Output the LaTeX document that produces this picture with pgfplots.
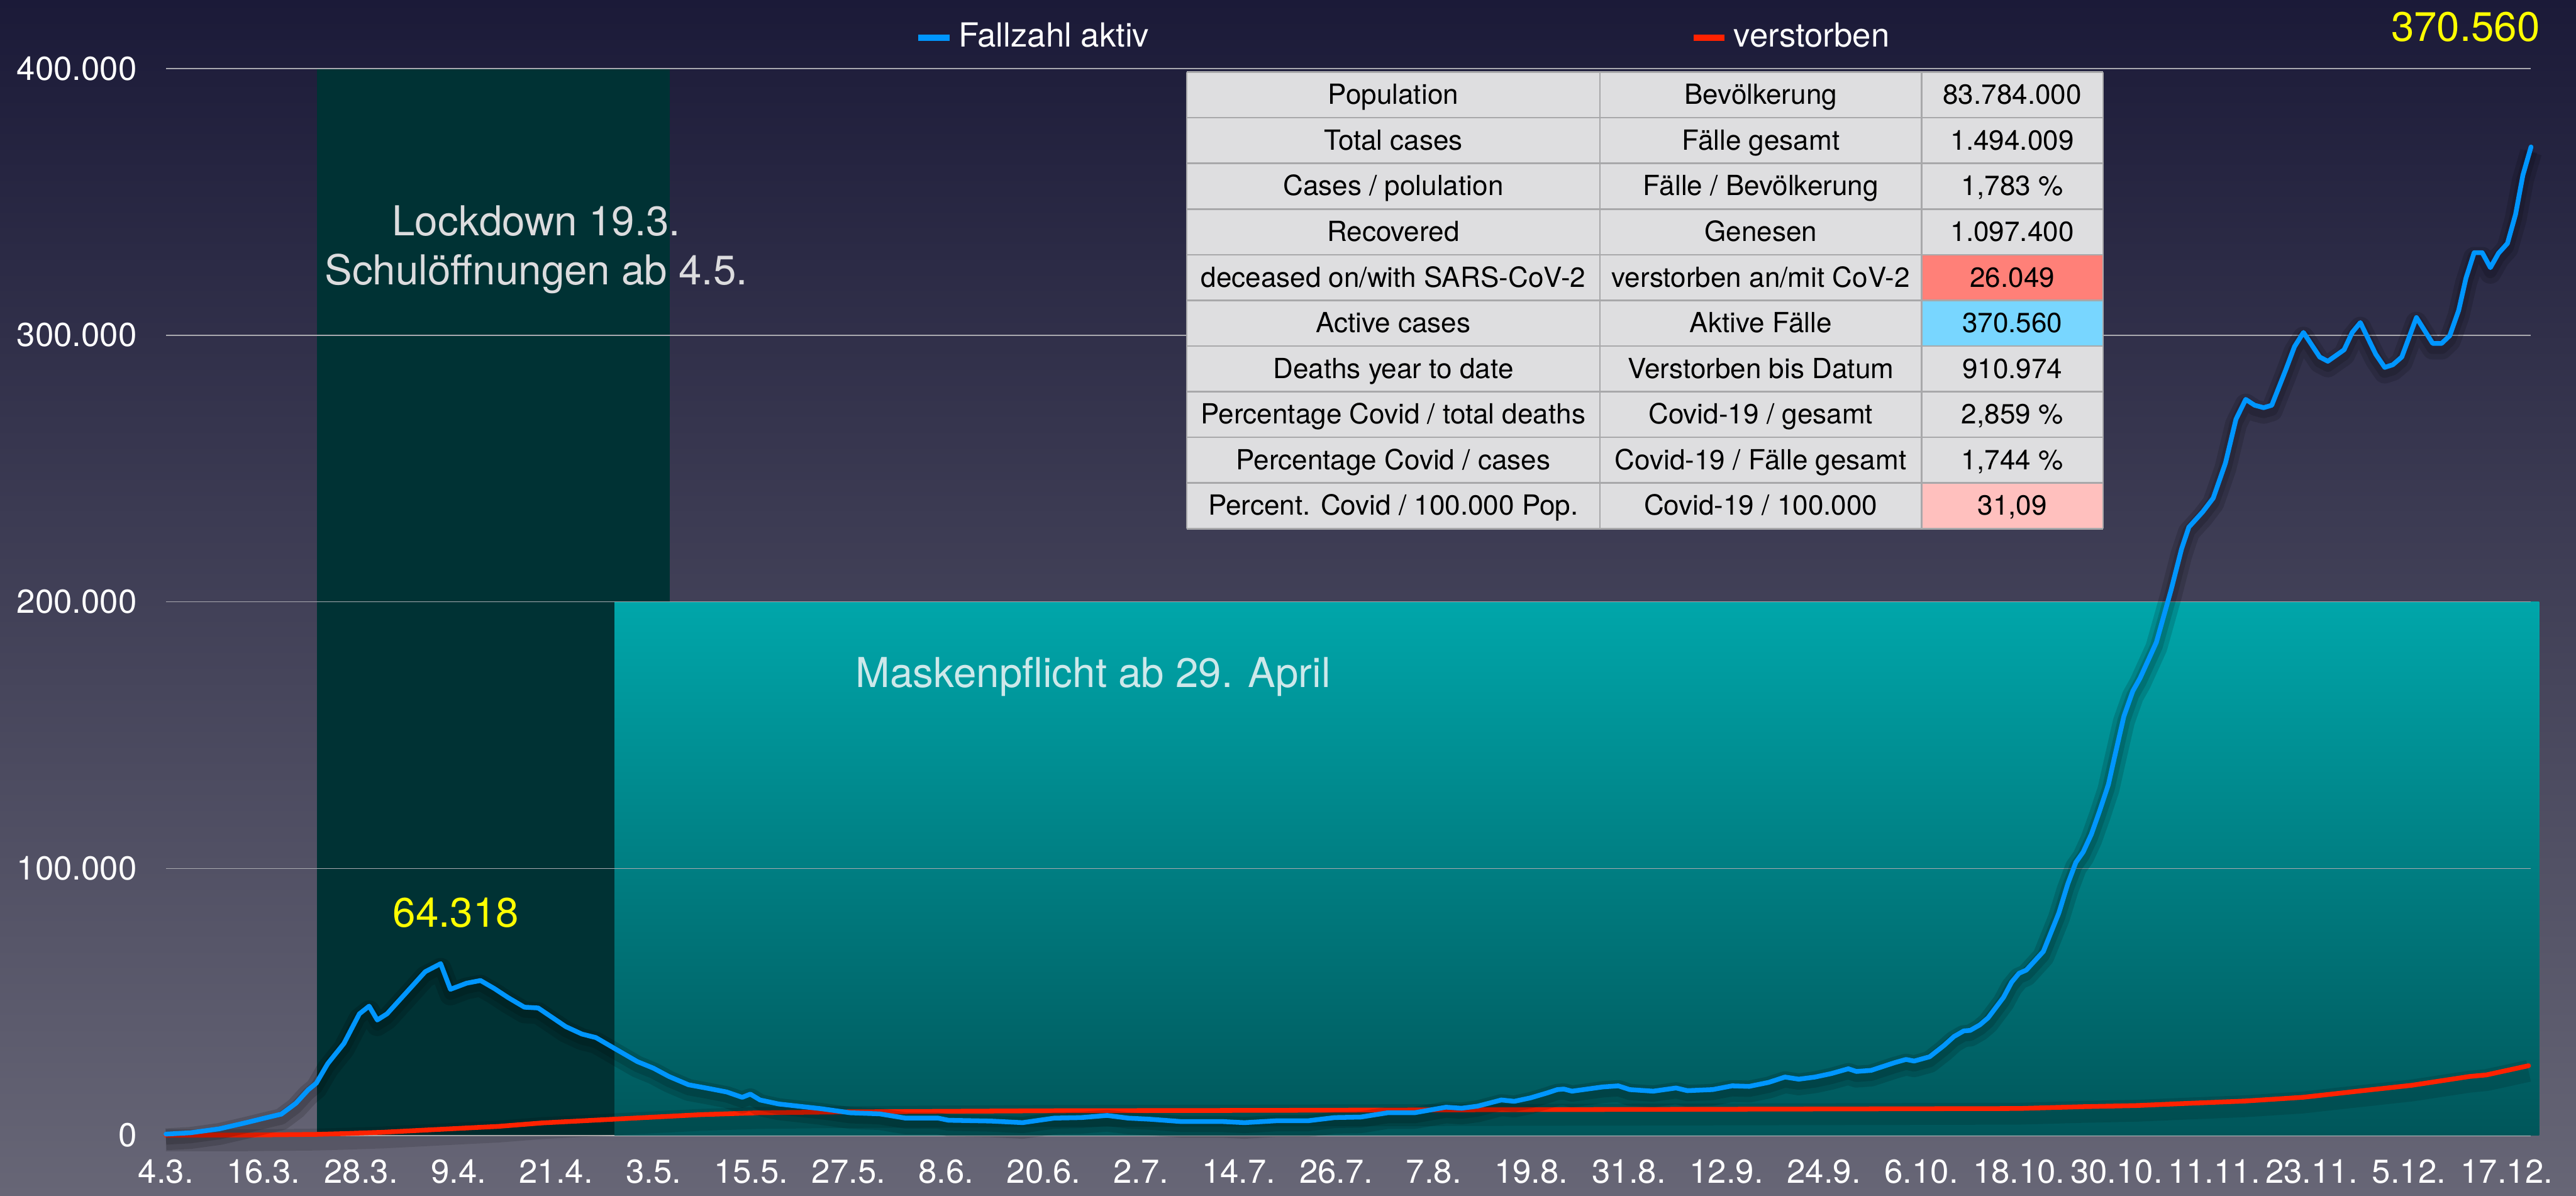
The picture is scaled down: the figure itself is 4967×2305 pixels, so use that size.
\documentclass[border=0pt]{standalone}
\usepackage{pgfplots}
\usepackage{pgfplotstable}
\pgfplotsset{compat=1.18}
\usepackage{fontspec}
\setmainfont{TeX Gyre Heros}
\definecolor{bgtop}{RGB}{27,26,56}
\definecolor{bgbot}{RGB}{103,102,118}
\definecolor{lockdown}{RGB}{0,50,52}
\definecolor{tealtop}{RGB}{0,166,170}
\definecolor{tealbot}{RGB}{0,86,90}
\definecolor{lineblue}{RGB}{0,150,255}
\definecolor{linered}{RGB}{255,34,0}
\definecolor{gridgray}{RGB}{170,170,176}
\definecolor{axisgray}{RGB}{190,190,190}
\definecolor{tablegray}{RGB}{222,222,224}
\definecolor{tableline}{RGB}{168,168,170}
\definecolor{cellred}{RGB}{255,128,120}
\definecolor{cellblue}{RGB}{120,214,255}
\definecolor{cellpink}{RGB}{255,192,190}
\definecolor{annotgray}{RGB}{220,220,222}
\definecolor{annotteal}{RGB}{205,232,234}
\definecolor{annotyellow}{RGB}{255,255,0}
\newcommand{\ticksize}{\fontsize{9.1}{11}\selectfont}
\newcommand{\tabsize}{\fontsize{7.6}{9}\selectfont}
\newcommand{\annsize}{\fontsize{11.3}{13.5}\selectfont}
% one table row: index, English, German, value
\newcommand{\trow}[4]{%
  \node[font=\tabsize, text=black, inner sep=0pt, anchor=base] at (2686.5,{201+88*#1}) {#2};
  \node[font=\tabsize, text=black, inner sep=0pt, anchor=base] at (3395,{201+88*#1}) {#3};
  \node[font=\tabsize, text=black, inner sep=0pt, anchor=base] at (3880,{201+88*#1}) {#4};}

\pgfplotstableread{
day active
0 400
3 900
6.6 2400
10 4800
12 6300
14.2 7900
16 12000
17.5 17000
18.5 19500
19.9 26800
21.9 34400
23.8 45500
25 48400
26 43200
27.2 45500
29.7 53900
31.9 61300
33.8 64318
35 54700
37 57000
38.7 58000
40.4 55000
42.1 51600
44.1 48000
45.8 47700
49.2 40700
51.2 37900
52.9 36600
55.1 32700
58 27600
60 25100
61.9 22000
64.3 18900
66.8 17500
69 16200
70.9 14200
71.9 15400
73.1 13200
75.4 11700
80.7 9900
84.2 8400
87.8 8000
91 6400
95 6400
96.3 5600
101.5 5300
105.4 4700
109.3 6400
112.6 6600
115.8 7400
118.4 6400
121 6000
125 5100
130.1 5100
132.7 4700
136.6 5400
140.5 5400
143.8 6600
147 6800
150.3 8400
153.6 8400
157.5 10500
159.4 10100
161.4 10900
164.3 13200
165.9 12700
167.9 14000
169.9 15800
171.2 17100
172 17300
173 16500
176.8 18100
178.7 18500
180.1 17100
183 16500
185.8 17700
187.2 16700
190.3 17100
192.7 18500
194.8 18300
197.2 19800
199.2 21800
200.9 21000
202.9 21800
204.9 23100
207 24900
208 23900
209.8 24300
212.7 27200
214.1 28400
215.1 27800
217 29400
218.8 33700
220 37000
221.2 39100
222 39300
223.2 41400
224.2 44000
226.1 51700
227.1 57400
228 60700
228.9 61900
231 68900
232.9 83300
234 94200
235 102300
235.9 106200
236.9 112800
237.9 121400
239 131500
239.7 141000
240.9 157000
242 166500
242.9 171400
244.9 184800
246.7 204300
248 219800
248.9 228000
250.6 233700
251.9 238900
253.4 252000
254.7 268500
255.9 275900
257 273700
258.1 272800
259.1 273700
260.8 286800
261.9 295700
263 301000
265 291800
266 290200
268 294500
269 301000
270 304700
271.9 292800
273 287900
274 288900
275.1 291800
276 299200
276.9 306600
278.9 296900
280 296900
281 299800
282.1 309300
283 321400
284 330900
285 330900
286 325300
287 330700
288.1 334400
289.1 345300
290 360000
291 370560
}\activetab

\pgfplotstableread{
day deaths
0 0
10 50
18.4 300
22 600
26.7 1100
33.1 2100
40.9 3300
46.3 4600
55.1 6000
65.8 7700
72.9 8400
84 8750
108 9150
134 9300
171 9600
187 9700
228 10000
236 10700
242.4 11100
248.5 11900
255.8 12800
262.9 14200
269.1 16300
276.3 18700
283.4 22000
285.5 22600
290.7 26049
}\deathtab

\begin{document}
\begin{tikzpicture}
% background of the whole picture (1 unit = 1 pixel of the reference)
\begin{scope}[x=0.05mm,y=-0.05mm,shift={(-320,-2188)}]
\fill[top color=bgtop,bottom color=bgbot] (0,0) rectangle (4967,2305);
\end{scope}

\begin{axis}[
  scale only axis,
  width=228mm, height=102.8mm,
  xmin=0, xmax=291, ymin=0, ymax=400000,
  clip=false,
  axis x line*=bottom, axis y line*=left,
  y axis line style={draw=none},
  x axis line style={draw=axisgray, line width=0.6pt, -},
  major tick length=0pt,
  xtick={0,12,...,288},
  xticklabels={4.3.,16.3.,28.3.,9.4.,21.4.,3.5.,15.5.,27.5.,8.6.,20.6.,2.7.,14.7.,26.7.,7.8.,19.8.,31.8.,12.9.,24.9.,6.10.,18.10.,30.10.,11.11.,23.11.,5.12.,17.12.},
  ytick={0,100000,200000,300000,400000},
  yticklabels={0,100.000,200.000,300.000,400.000},
  scaled y ticks=false,
  /pgf/number format/assume math mode=true,
  tick label style={font=\ticksize, text=white},
  xticklabel style={anchor=north, inner sep=0pt, yshift=-2.3mm},
  yticklabel style={anchor=east, inner sep=0pt, xshift=-2.75mm},
  legend columns=2,
  reverse legend,
  legend style={at={(0.3169,1.0287)}, anchor=west, draw=none, fill=none,
    inner sep=0pt, outer sep=0pt,
    nodes={inner sep=0pt, text=white, font=\ticksize},
    /tikz/every odd column/.append style={column sep=0.6mm},
    /tikz/every even column/.append style={column sep=52.2mm}},
  legend image code/.code={\draw[#1, line width=1.6pt, line cap=butt] (0mm,0mm) -- (3mm,0mm);},
]
% shaded periods
\addplot[forget plot, draw=none, fill=lockdown]
  coordinates {(18.6,0) (18.6,400000) (62,400000) (62,0)};
\addplot[forget plot, draw=none, top color=tealtop, bottom color=tealbot]
  coordinates {(55.2,0) (55.2,200000) (292,200000) (292,0)};
% horizontal grid lines (above the shaded periods, below the series)
\foreach \g in {100000,200000,300000,400000} {
  \edef\temp{\noexpand\draw[gridgray, line width=0.3pt] (axis cs:0,\g) -- (axis cs:291,\g);}
  \temp
}

% deaths
\addplot[forget plot, draw=black, opacity=0.12, line width=6pt, line join=round, yshift=-0.5mm]
  table[x=day, y=deaths] {\deathtab};
\addplot[draw=linered, line width=1.3pt, line join=round, line cap=round]
  table[x=day, y=deaths] {\deathtab};
\addlegendentry{verstorben}
% active cases
\addplot[forget plot, draw=black, opacity=0.14, line width=6pt, line join=round, yshift=-0.5mm]
  table[x=day, y=active] {\activetab};
\addplot[forget plot, draw=black, opacity=0.14, line width=3.5pt, line join=round, yshift=-0.4mm]
  table[x=day, y=active] {\activetab};
\addplot[draw=lineblue, line width=1.3pt, line join=round, line cap=round]
  table[x=day, y=active] {\activetab};
\addlegendentry{Fallzahl aktiv}
\end{axis}

% annotations and the table (1 unit = 1 pixel of the reference)
\begin{scope}[x=0.05mm,y=-0.05mm,shift={(-320,-2188)}]
\node[anchor=base, text=annotgray, font=\annsize, inner sep=0pt] at (1034,454) {Lockdown 19.3.};
\node[anchor=base, text=annotgray, font=\annsize, inner sep=0pt] at (1034,549) {Schulöffnungen ab 4.5.};
\node[anchor=base, text=annotteal, font=\annsize, inner sep=0pt] at (2108,1325) {Maskenpflicht ab 29. April};
\node[anchor=base, text=annotyellow, font=\annsize, inner sep=0pt] at (879,1787) {64.318};
\node[anchor=base, text=annotyellow, font=\annsize, inner sep=0pt] at (4754,80) {370.560};

% table
\fill[tablegray] (2288,139) rectangle (4055,1019);
\fill[cellred] (3705,491) rectangle (4055,579);
\fill[cellblue] (3705,579) rectangle (4055,667);
\fill[cellpink] (3705,931) rectangle (4055,1019);
\foreach \i in {0,...,10} {
  \draw[tableline, line width=0.45pt] (2288,139+88*\i) -- (4055,139+88*\i);
}
\foreach \xx in {2288,3085,3705,4055} {
  \draw[tableline, line width=0.45pt] (\xx,139) -- (\xx,1019);
}
\trow{0}{Population}{Bevölkerung}{83.784.000}
\trow{1}{Total cases}{Fälle gesamt}{1.494.009}
\trow{2}{Cases / polulation}{Fälle / Bevölkerung}{1,783 \%}
\trow{3}{Recovered}{Genesen}{1.097.400}
\trow{4}{deceased on/with SARS-CoV-2}{verstorben an/mit CoV-2}{26.049}
\trow{5}{Active cases}{Aktive Fälle}{370.560}
\trow{6}{Deaths year to date}{Verstorben bis Datum}{910.974}
\trow{7}{Percentage Covid / total deaths}{Covid-19 / gesamt}{2,859 \%}
\trow{8}{Percentage Covid / cases}{Covid-19 / Fälle gesamt}{1,744 \%}
\trow{9}{Percent. Covid / 100.000 Pop.}{Covid-19 / 100.000}{31,09}
\end{scope}
\end{tikzpicture}
\end{document}
